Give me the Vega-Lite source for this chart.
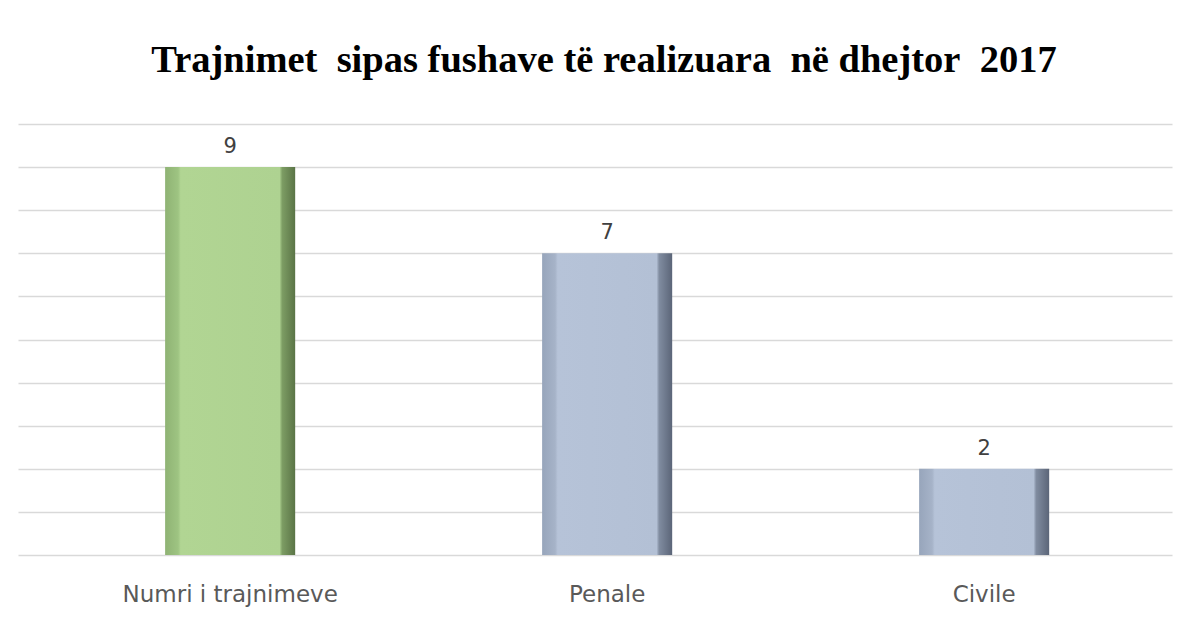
{
  "$schema": "https://vega.github.io/schema/vega-lite/v6.json",
  "autosize": "none",
  "width": 1154,
  "height": 431,
  "padding": {"left": 18, "top": 124, "right": 20, "bottom": 69},
  "background": "white",
  "title": {
    "text": "Trajnimet\u00a0 sipas fushave të realizuara\u00a0 në dhejtor\u00a0 2017",
    "font": "Liberation Serif",
    "fontSize": 38.5,
    "fontWeight": "bold",
    "color": "#000000",
    "anchor": "middle",
    "dx": 9,
    "offset": 44
  },
  "data": {
    "values": [
      {"fusha": "Numri i trajnimeve", "numri": 9},
      {"fusha": "Penale", "numri": 7},
      {"fusha": "Civile", "numri": 2}
    ]
  },
  "config": {"view": {"stroke": null}},
  "encoding": {
    "x": {
      "field": "fusha",
      "type": "nominal",
      "sort": null,
      "scale": {"paddingInner": 0.655, "paddingOuter": 0.358, "align": 0.545},
      "axis": {
        "title": null,
        "labelAngle": 0,
        "labelFont": "DejaVu Sans",
        "labelFontSize": 23,
        "labelColor": "#595959",
        "labelPadding": 28,
        "labelLimit": 500,
        "ticks": false,
        "domain": false
      }
    },
    "y": {
      "field": "numri",
      "type": "quantitative",
      "scale": {"domain": [0, 10], "nice": false},
      "axis": {
        "title": null,
        "labels": false,
        "ticks": false,
        "domain": false,
        "values": [0,1,2,3,4,5,6,7,8,9,10],
        "gridColor": "#d9d9d9",
        "gridWidth": 1.5
      }
    }
  },
  "layer": [
    {
      "mark": {"type": "bar", "stroke": null},
      "encoding": {
        "fill": {
          "condition": {
            "test": "datum.fusha === 'Numri i trajnimeve'",
            "value": {
              "gradient": "linear",
              "x1": 0, "y1": 0, "x2": 1, "y2": 0,
              "stops": [
                {"offset": 0, "color": "#8fb374"},
                {"offset": 0.1, "color": "#9ec482"},
                {"offset": 0.12, "color": "#b1d593"},
                {"offset": 0.88, "color": "#aed291"},
                {"offset": 0.9, "color": "#7d9d64"},
                {"offset": 1, "color": "#5a7446"}
              ]
            }
          },
          "value": {
            "gradient": "linear",
            "x1": 0, "y1": 0, "x2": 1, "y2": 0,
            "stops": [
              {"offset": 0, "color": "#97a5bb"},
              {"offset": 0.1, "color": "#a6b3c8"},
              {"offset": 0.12, "color": "#b6c3d8"},
              {"offset": 0.88, "color": "#b3c0d5"},
              {"offset": 0.9, "color": "#808ca0"},
              {"offset": 1, "color": "#5b6578"}
            ]
          }
        }
      }
    },
    {
      "mark": {"type": "text", "dy": -20, "font": "DejaVu Sans", "fontSize": 21, "color": "#404040"},
      "encoding": {"text": {"field": "numri", "type": "quantitative"}}
    }
  ]
}
